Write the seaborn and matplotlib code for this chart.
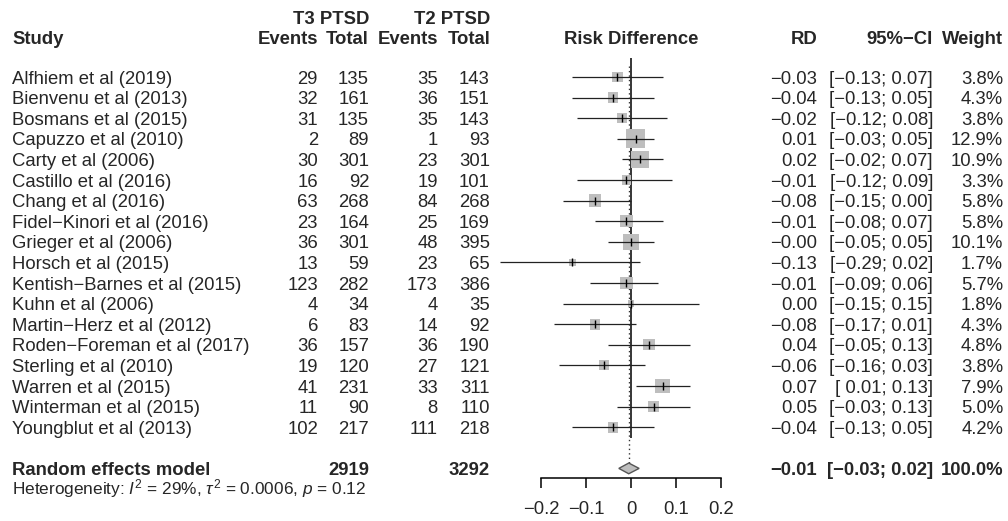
import numpy as np
import pandas as pd
import matplotlib.pyplot as plt
import seaborn as sns
from matplotlib.patches import Polygon

# study level data
studies = ["Alfhiem et al (2019)", "Bienvenu et al (2013)", "Bosmans et al (2015)",
           "Capuzzo et al (2010)", "Carty et al (2006)", "Castillo et al (2016)",
           "Chang et al (2016)", "Fidel\u2212Kinori et al (2016)", "Grieger et al (2006)",
           "Horsch et al (2015)", "Kentish\u2212Barnes et al (2015)", "Kuhn et al (2006)",
           "Martin\u2212Herz et al (2012)", "Roden\u2212Foreman et al (2017)", "Sterling et al (2010)",
           "Warren et al (2015)", "Winterman et al (2015)", "Youngblut et al (2013)"]
t3_events = [29, 32, 31, 2, 30, 16, 63, 23, 36, 13, 123, 4, 6, 36, 19, 41, 11, 102]
t3_total = [135, 161, 135, 89, 301, 92, 268, 164, 301, 59, 282, 34, 83, 157, 120, 231, 90, 217]
t2_events = [35, 36, 35, 1, 23, 19, 84, 25, 48, 23, 173, 4, 14, 36, 27, 33, 8, 111]
t2_total = [143, 151, 143, 93, 301, 101, 268, 169, 395, 65, 386, 35, 92, 190, 121, 311, 110, 218]
rd = [-0.03, -0.04, -0.02, 0.01, 0.02, -0.01, -0.08, -0.01, -0.00, -0.13,
      -0.01, 0.00, -0.08, 0.04, -0.06, 0.07, 0.05, -0.04]
ci_low = [-0.13, -0.13, -0.12, -0.03, -0.02, -0.12, -0.15, -0.08, -0.05, -0.29,
          -0.09, -0.15, -0.17, -0.05, -0.16, 0.01, -0.03, -0.13]
ci_high = [0.07, 0.05, 0.08, 0.05, 0.07, 0.09, 0.00, 0.07, 0.05, 0.02,
           0.06, 0.15, 0.01, 0.13, 0.03, 0.13, 0.13, 0.05]
weight = [3.8, 4.3, 3.8, 12.9, 10.9, 3.3, 5.8, 5.8, 10.1, 1.7,
          5.7, 1.8, 4.3, 4.8, 3.8, 7.9, 5.0, 4.2]

# pooled estimate
pooled_rd, pooled_low, pooled_high = -0.005, -0.027, 0.018
pooled_text = ["\u22120.01", "[\u22120.03; 0.02]", "100.0%"]
t3_sum, t2_sum = 2919, 3292
het_text = r"Heterogeneity: $\mathit{I}^2$ = 29%, $\tau^2$ = 0.0006, $\mathit{p}$ = 0.12"

xticks = [-0.2, -0.1, 0, 0.1, 0.2]
xtick_labels = ["\u22120.2", "\u22120.1", "0", "0.1", "0.2"]


def num(v):
    s = f"{v:.2f}"
    return s.replace("-", "\u2212")


def ci(lo, hi):
    lo_s = num(lo) if lo < 0 else " " + num(lo)
    return f"[{lo_s}; {num(hi)}]"


sns.set_theme(style="white")
plt.rcParams["font.family"] = ["Liberation Sans", "DejaVu Sans"]
plt.rcParams["mathtext.fontset"] = "custom"
plt.rcParams["mathtext.rm"] = "Liberation Sans"
plt.rcParams["mathtext.it"] = "Liberation Sans:italic"

W, H = 1008, 521
fig = plt.figure(figsize=(W / 100, H / 100), dpi=100)

row0, dy = 77, 20.6


def row_of(py):
    return (py - row0) / dy


# text layer covers the whole figure, y in row units
ax_t = fig.add_axes([0, 0, 1, 1])
ax_t.set_xlim(0, W)
ax_t.set_ylim(row_of(H), row_of(0))
ax_t.axis("off")

fs = 13.3
base = 0.32  # baseline offset (rows) so text is centred on the row
bold = dict(fontsize=fs, fontweight="bold", va="baseline")
norm = dict(fontsize=fs, va="baseline")

# header
ax_t.text(369, row_of(17) + base, "T3 PTSD", ha="right", **bold)
ax_t.text(490, row_of(17) + base, "T2 PTSD", ha="right", **bold)
hy = row_of(37) + base
ax_t.text(12, hy, "Study", ha="left", **bold)
ax_t.text(318, hy, "Events", ha="right", **bold)
ax_t.text(369, hy, "Total", ha="right", **bold)
ax_t.text(438, hy, "Events", ha="right", **bold)
ax_t.text(490, hy, "Total", ha="right", **bold)
ax_t.text(631, hy, "Risk Difference", ha="center", **bold)
ax_t.text(817, hy, "RD", ha="right", **bold)
ax_t.text(933, hy, "95%\u2212CI", ha="right", **bold)
ax_t.text(1003, hy, "Weight", ha="right", **bold)

n = len(studies)
for i in range(n):
    y = i + base
    ax_t.text(12, y, studies[i], ha="left", **norm)
    ax_t.text(318, y, str(t3_events[i]), ha="right", **norm)
    ax_t.text(369, y, str(t3_total[i]), ha="right", **norm)
    ax_t.text(438, y, str(t2_events[i]), ha="right", **norm)
    ax_t.text(490, y, str(t2_total[i]), ha="right", **norm)
    ax_t.text(817, y, num(rd[i]), ha="right", **norm)
    ax_t.text(933, y, ci(ci_low[i], ci_high[i]), ha="right", **norm)
    ax_t.text(1003, y, f"{weight[i]:.1f}%", ha="right", **norm)

sy = n + 1
ax_t.text(12, sy + base, "Random effects model", ha="left", **bold)
ax_t.text(369, sy + base, str(t3_sum), ha="right", **bold)
ax_t.text(490, sy + base, str(t2_sum), ha="right", **bold)
ax_t.text(817, sy + base, pooled_text[0], ha="right", **bold)
ax_t.text(933, sy + base, pooled_text[1], ha="right", **bold)
ax_t.text(1003, sy + base, pooled_text[2], ha="right", **bold)
ax_t.text(12, row_of(489) + 0.28, het_text, ha="left", va="baseline", fontsize=12.4)

# forest panel
x0, scale = 631, 451
ax = fig.add_axes([480 / W, (H - 478) / H, 300 / W, (478 - 55) / H])
ax.patch.set_alpha(0)

df = pd.DataFrame({"row": np.arange(n), "rd": rd, "weight": weight})
k = 14
sns.scatterplot(data=df, x="rd", y="row", size="weight",
                sizes=(min(weight) * k, max(weight) * k),
                size_norm=(min(weight), max(weight)),
                marker="s", color="#BEBEBE", edgecolor="none", linewidth=0,
                legend=False, ax=ax, zorder=2)
ax.hlines(df["row"], ci_low, ci_high, color="#222222", lw=0.9, zorder=3)
sns.scatterplot(data=df, x="rd", y="row", marker="|", s=26, color="black",
                linewidth=1.0, legend=False, ax=ax, zorder=4)

ax.vlines(0, row_of(58), row_of(438), color="black", lw=1.1, zorder=1)
ax.vlines(pooled_rd, row_of(66), row_of(463), color="#333333", lw=1,
          linestyles=(0, (1, 2.2)), zorder=1)
hd = 0.26
ax.add_patch(Polygon([(pooled_low, sy), (pooled_rd, sy - hd), (pooled_high, sy),
                      (pooled_rd, sy + hd)], closed=True, facecolor="#BEBEBE",
                     edgecolor="#555555", lw=1, zorder=5))

ax.set_xlim((480 - x0) / scale, (780 - x0) / scale)
ax.set_ylim(row_of(478), row_of(55))
ax.set_xlabel("")
ax.set_ylabel("")
ax.set_yticks([])
ax.set_xticks(xticks)
ax.set_xticklabels(xtick_labels)
for s in ["top", "left", "right"]:
    ax.spines[s].set_visible(False)
ax.spines["bottom"].set_bounds(-0.2, 0.2)
ax.spines["bottom"].set_color("black")
ax.spines["bottom"].set_linewidth(1.1)
ax.tick_params(axis="x", direction="out", length=7.5, width=1.1, color="black",
               labelsize=fs, pad=9, bottom=True)

fig.savefig("out.png", dpi=100)
